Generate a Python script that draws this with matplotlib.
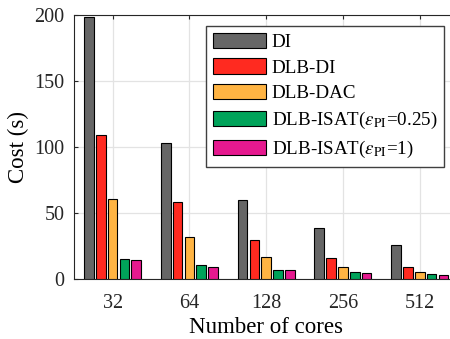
import numpy as np
import matplotlib
matplotlib.use('Agg')
import matplotlib.pyplot as plt

plt.rcParams['font.family'] = ['Liberation Serif', 'DejaVu Serif']
plt.rcParams['mathtext.fontset'] = 'stix'

# cost per run for each solver setup
cores = ['32', '64', '128', '256', '512']
series = ['DI', 'DLB-DI', 'DLB-DAC',
          r'DLB-ISAT($\epsilon_{\rm PI}$=0.25)',
          r'DLB-ISAT($\epsilon_{\rm PI}$=1)']
cost_di = [198.5, 103, 60, 39, 25.7]
cost_dlb_di = [109, 58, 29.8, 15.9, 9.1]
cost_dlb_dac = [60.6, 32, 16.4, 8.8, 5.0]
cost_isat_025 = [15.0, 10.4, 6.8, 5.3, 3.5]
cost_isat_1 = [14.7, 9.1, 6.6, 4.3, 2.8]
colors = ['#666666', '#ff2a20', '#ffb443', '#00a35a', '#e6198f']

all_costs = [cost_di, cost_dlb_di, cost_dlb_dac, cost_isat_025, cost_isat_1]

fig = plt.figure(figsize=(4.5, 3.39), dpi=100)
ax = fig.add_axes([0.165, 0.177, 0.853, 0.779])

x = np.arange(1, len(cores) + 1)
pitch = 0.154
width = 0.126
for i, (vals, lab, col) in enumerate(zip(all_costs, series, colors)):
    ax.bar(x + (i - 2) * pitch, vals, width, color=col, edgecolor='black',
           linewidth=0.8, label=lab, zorder=3)

ax.set_xlim(0.5, 5.5)
ax.set_ylim(0, 200)
ax.set_xticks(x)
ax.set_xticklabels(cores)
ax.set_yticks([0, 50, 100, 150, 200])
ax.grid(True, color='#e3e3e3', linewidth=0.9, zorder=0)
ax.set_axisbelow(True)

for side in ['left', 'bottom', 'top', 'right']:
    ax.spines[side].set_color('#262626')
    ax.spines[side].set_linewidth(0.8)
ax.tick_params(direction='in', length=3, width=0.8, colors='#262626',
               labelsize=14.5, top=True, right=True)
ax.tick_params(axis='x', pad=11)
ax.tick_params(axis='y', pad=7)

ax.set_xlabel('Number of cores', fontsize=16.5, labelpad=3)
ax.set_ylabel('Cost (s)', fontsize=16.5, labelpad=4)

leg = ax.legend(loc='upper left', bbox_to_anchor=(206 / 450, 1 - 26 / 339),
                bbox_transform=fig.transFigure, fontsize=13.7,
                frameon=True, fancybox=False, framealpha=1,
                edgecolor='#404040', handlelength=2.8, handleheight=0.85,
                labelspacing=0.4, handletextpad=0.3, borderpad=0.35,
                borderaxespad=0)
leg.get_frame().set_linewidth(1.0)

fig.savefig('out.png', dpi=100)
